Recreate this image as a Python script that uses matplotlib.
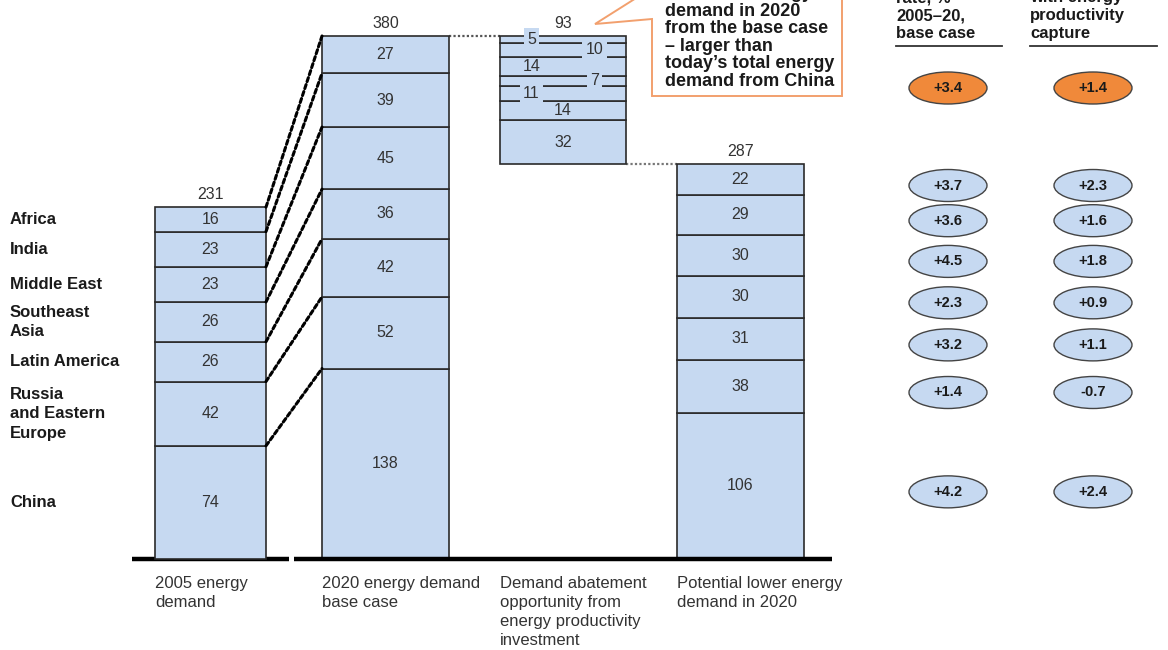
import numpy as np
import matplotlib
matplotlib.use("Agg")
import matplotlib.pyplot as plt
from matplotlib.patches import Ellipse, Polygon, ConnectionPatch
from matplotlib.lines import Line2D
from matplotlib.transforms import ScaledTranslation

plt.rcParams['font.family'] = ['Liberation Sans', 'DejaVu Sans']

# ---------------- data (bottom-to-top order of regions) ----------------
regions = ["China", "Russia\nand Eastern\nEurope", "Latin America", "Southeast\nAsia",
           "Middle East", "India", "Africa"]
demand_2005 = [74, 42, 26, 26, 23, 23, 16]
demand_2020_base = [138, 52, 42, 36, 45, 39, 27]
abatement = [32, 14, 11, 7, 14, 10, 5]
demand_2020_low = [106, 38, 31, 30, 30, 29, 22]
totals = [231, 380, 93, 287]
growth_base = ["+4.2", "+1.4", "+3.2", "+2.3", "+4.5", "+3.6", "+3.7"]
growth_productivity = ["+2.4", "-0.7", "+1.1", "+0.9", "+1.8", "+1.6", "+2.3"]
growth_total = ["+3.4", "+1.4"]
column_labels = ["2005 energy\ndemand", "2020 energy demand\nbase case",
                 "Demand abatement\nopportunity from\nenergy productivity\ninvestment",
                 "Potential lower energy\ndemand in 2020"]
header_base = "Growth\nrate, %\n2005–20,\nbase case"
header_prod = "Rate, %\nwith energy\nproductivity\ncapture"
callout_text = ("Potential 93 QBTU\ndecline in energy\ndemand in 2020\nfrom the base case\n"
                "– larger than\ntoday’s total energy\ndemand from China")

# ---------------- layout / style ----------------
W, H = 1168, 650
BASE_PX = 559
SCALE_MAIN = 1.38
SCALE_2005 = 1.53
BLUE = "#C6D9F1"
EDGE = "#2a2a2a"
ORANGE = "#F0893A"
TXT = "#333333"
DARK = "#1a1a1a"
NUM_FS = 11.5
LAB_FS = 12

bar_left = [155, 322, 500, 677]
bar_width = [111, 127, 126, 127]
abate_pos = ["center", "center", "left", "right", "left", "right", "left"]

fig = plt.figure(figsize=(W / 100, H / 100), dpi=100)
ax = fig.add_axes([0, 0, 1, 1])
ax05 = fig.add_axes([0, 0, 1, 1])
for a, s in ((ax, SCALE_MAIN), (ax05, SCALE_2005)):
    a.set_xlim(0, W)
    a.set_ylim(-(H - BASE_PX) / s, BASE_PX / s)
    a.axis("off")
ax05.patch.set_alpha(0)


def fx(px):
    return px / W


def fy(py):
    return 1 - py / H


xc = [l + w / 2 for l, w in zip(bar_left, bar_width)]

# 2005 bar
b05 = np.concatenate([[0], np.cumsum(demand_2005)[:-1]])
ax05.bar(xc[0], demand_2005, width=bar_width[0], bottom=b05, color=BLUE,
         edgecolor=EDGE, linewidth=1.2, zorder=2)
for v, b, lab in zip(demand_2005, b05, regions):
    ax05.text(xc[0], b + v / 2, str(v), ha="center", va="center", fontsize=NUM_FS, color=TXT, zorder=4)
    ax05.text(10, b + v / 2, lab, ha="left", va="center", fontsize=LAB_FS, fontweight="bold",
              color=DARK, linespacing=1.38)
ax05.annotate(str(totals[0]), (xc[0], sum(demand_2005)), xytext=(0, 3.5), textcoords="offset points",
              ha="center", va="bottom", fontsize=NUM_FS, color=TXT)

# 2020 base bar
b20 = np.concatenate([[0], np.cumsum(demand_2020_base)[:-1]])
ax.bar(xc[1], demand_2020_base, width=bar_width[1], bottom=b20, color=BLUE,
       edgecolor=EDGE, linewidth=1.2, zorder=2)
for v, b in zip(demand_2020_base, b20):
    ax.text(xc[1], b + v / 2, str(v), ha="center", va="center", fontsize=NUM_FS, color=TXT, zorder=4)
top20 = sum(demand_2020_base)
ax.annotate(str(totals[1]), (xc[1], top20), xytext=(0, 3.5), textcoords="offset points",
            ha="center", va="bottom", fontsize=NUM_FS, color=TXT)

# abatement bar (floating)
ab_bottom0 = top20 - sum(abatement)
bab = ab_bottom0 + np.concatenate([[0], np.cumsum(abatement)[:-1]])
ax.bar(xc[2], abatement, width=bar_width[2], bottom=bab, color=BLUE,
       edgecolor=EDGE, linewidth=1.2, zorder=2)
for v, b, pos in zip(abatement, bab, abate_pos):
    x = {"center": xc[2], "left": bar_left[2] + 0.25 * bar_width[2],
         "right": bar_left[2] + 0.75 * bar_width[2]}[pos]
    kw = {}
    if v < 12:
        kw["bbox"] = dict(facecolor=BLUE, edgecolor="none", pad=2.5)
    ax.text(x, b + v / 2, str(v), ha="center", va="center", fontsize=NUM_FS, color=TXT, zorder=5, **kw)
ax.annotate(str(totals[2]), (xc[2], top20), xytext=(0, 3.5), textcoords="offset points",
            ha="center", va="bottom", fontsize=NUM_FS, color=TXT)

# potential lower bar
blow = np.concatenate([[0], np.cumsum(demand_2020_low)[:-1]])
ax.bar(xc[3], demand_2020_low, width=bar_width[3], bottom=blow, color=BLUE,
       edgecolor=EDGE, linewidth=1.2, zorder=2)
for v, b in zip(demand_2020_low, blow):
    ax.text(xc[3], b + v / 2, str(v), ha="center", va="center", fontsize=NUM_FS, color=TXT, zorder=4)
ax.annotate(str(totals[3]), (xc[3], sum(demand_2020_low)), xytext=(0, 3.5), textcoords="offset points",
            ha="center", va="bottom", fontsize=NUM_FS, color=TXT)

# dashed connectors 2005 -> 2020
for t05, t20 in zip(np.cumsum(demand_2005), np.cumsum(demand_2020_base)):
    con = ConnectionPatch(xyA=(bar_left[0] + bar_width[0], t05), coordsA=ax05.transData,
                          xyB=(bar_left[1], t20), coordsB=ax.transData,
                          color="black", linewidth=2.2, linestyle=(0, (1.4, 1.0)), zorder=1)
    fig.add_artist(con)

# dotted connectors
ax.plot([bar_left[1] + bar_width[1], bar_left[2]], [top20, top20], ls=(0, (1, 1)),
        color="#555555", lw=1.6, zorder=1)
ax.plot([bar_left[2] + bar_width[2], bar_left[3]], [ab_bottom0, ab_bottom0], ls=(0, (1, 1)),
        color="#777777", lw=1.6, zorder=1)

# baseline
ax.plot([132, 289], [0, 0], color="black", lw=3.2, solid_capstyle="butt", zorder=3)
ax.plot([294, 832], [0, 0], color="black", lw=3.2, solid_capstyle="butt", zorder=3)

# column labels
for l, lab in zip(bar_left, column_labels):
    ax.annotate(lab, (l, 0), xytext=(0, -12.5), textcoords="offset points", ha="left", va="top",
                fontsize=LAB_FS, color=TXT, linespacing=1.31)

# growth ellipses
ell_x = [948, 1093]
off = ax.transData + ScaledTranslation(0, -0.06, fig.dpi_scale_trans)
ell_w, ell_h = 78, 32 / SCALE_MAIN
for v, b, g1, g2 in zip(demand_2020_low, blow, growth_base, growth_productivity):
    yc = b + v / 2
    for x, g in zip(ell_x, (g1, g2)):
        ax.add_patch(Ellipse((x, yc), ell_w, ell_h, facecolor=BLUE, edgecolor="#444444",
                             linewidth=1.0, transform=off))
        ax.text(x, yc, g, ha="center", va="center", fontsize=10.5, fontweight="bold",
                color=DARK, transform=off)
total_row_y = (BASE_PX - 88) / SCALE_MAIN
for x, g in zip(ell_x, growth_total):
    ax.add_patch(Ellipse((x, total_row_y), ell_w, ell_h, facecolor=ORANGE, edgecolor="#444444",
                         linewidth=1.0))
    ax.text(x, total_row_y, g, ha="center", va="center", fontsize=10.5, fontweight="bold", color=DARK)

# headers
fig.text(fx(896), fy(41), header_base, ha="left", va="bottom", fontsize=LAB_FS, fontweight="bold",
         color=DARK, linespacing=1.24)
fig.text(fx(1030), fy(41), header_prod, ha="left", va="bottom", fontsize=LAB_FS, fontweight="bold",
         color=DARK, linespacing=1.24)
fig.add_artist(Line2D([fx(896), fx(1002)], [fy(46), fy(46)], color="#333333", lw=1.3))
fig.add_artist(Line2D([fx(1030), fx(1157)], [fy(46), fy(46)], color="#333333", lw=1.3))

# callout
poly_px = [(652, -60), (652, -12), (595, 24), (652, 19), (652, 96), (842, 96), (842, -60)]
fig.add_artist(Polygon([(fx(x), fy(y)) for x, y in poly_px], closed=True, facecolor="white",
                       edgecolor="#F2A06E", linewidth=1.4, transform=fig.transFigure))
fig.text(fx(665), fy(90), callout_text, ha="left", va="bottom", fontsize=13, fontweight="bold",
         color=DARK, linespacing=1.04)

fig.savefig("out.png", dpi=100)
